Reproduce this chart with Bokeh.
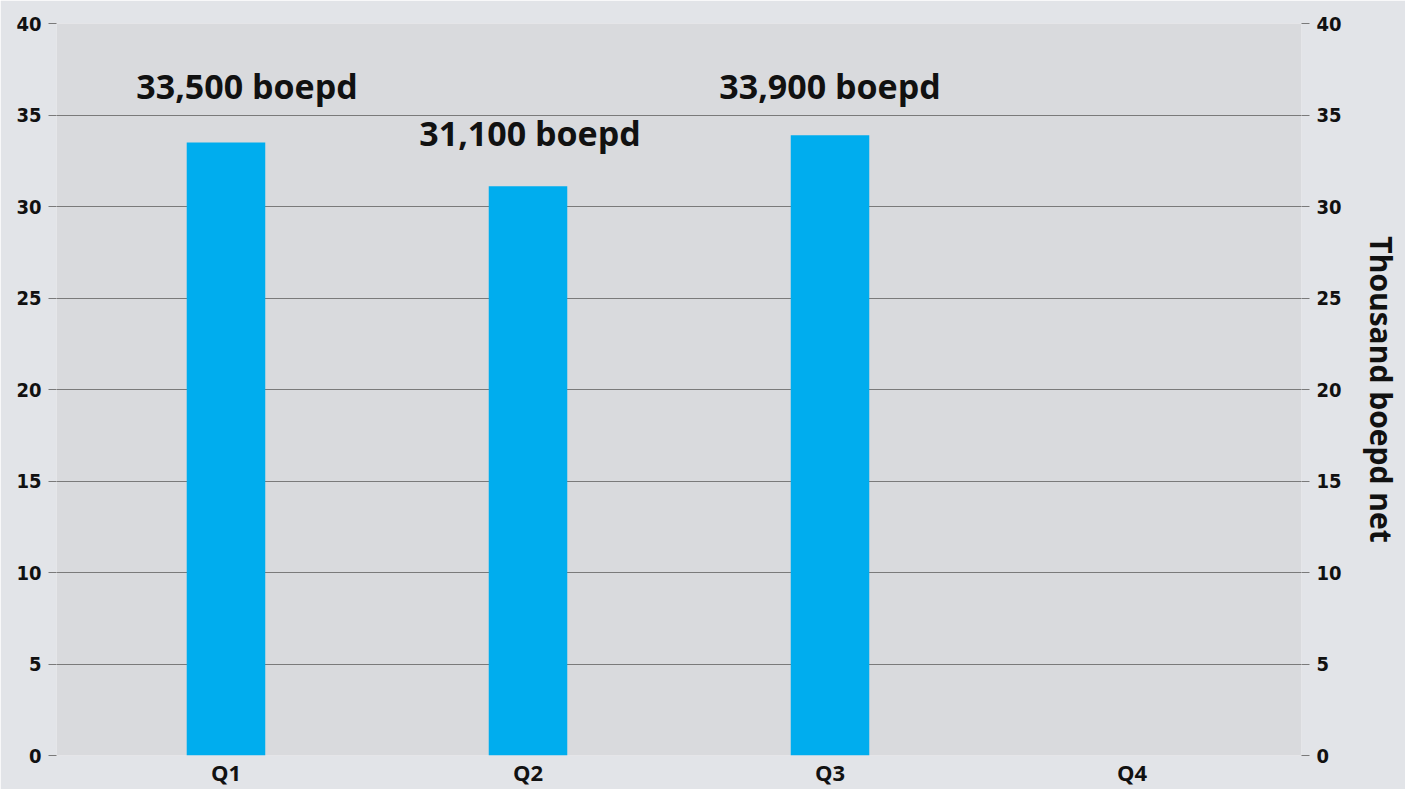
from bokeh.plotting import figure
from bokeh.models import FactorRange, Range1d, LinearAxis, FixedTicker, ColumnDataSource
from bokeh.core.properties import value
from bokeh.embed import file_html
from bokeh.resources import INLINE

quarters = ["Q1", "Q2", "Q3", "Q4"]
production = [33.5, 31.1, 33.9, None]
bar_labels = ["33,500 boepd", "31,100 boepd", "33,900 boepd"]
y_ticks = [0, 5, 10, 15, 20, 25, 30, 35, 40]

TICK_FONT = "DejaVu Sans Condensed"

p = figure(
    width=1405, height=789,
    x_range=FactorRange(factors=quarters, range_padding=0.0306),
    y_range=Range1d(0, 40),
    output_backend="svg", toolbar_location=None,
    min_border_left=56, min_border_right=104, min_border_top=23, min_border_bottom=34,
)
p.border_fill_color = "#e2e4e8"
p.background_fill_color = "#d9dadd"
p.outline_line_color = None

vals = [v if v is not None else float("nan") for v in production]
src = ColumnDataSource(dict(q=quarters, v=vals))
p.vbar(x="q", top="v", width=0.26, source=src, fill_color="#00adee", line_color=None)

lab_src = ColumnDataSource(dict(q=quarters[:3], v=production[:3], t=bar_labels,
                                xo=[21, 2, 0], yo=[-33, -30, -26]))
p.text(x="q", y="v", text="t", source=lab_src, x_offset="xo", y_offset="yo",
       text_font=value("Open Sans"), text_font_style="bold", text_font_size="34px",
       text_color="#111111", text_align="center", text_baseline="bottom")

# grid
p.xgrid.grid_line_color = None
p.ygrid.ticker = FixedTicker(ticks=y_ticks)
p.ygrid.grid_line_color = "#7a7a7a"
p.ygrid.grid_line_width = 1.2

# left axis
la = p.yaxis[0]
la.ticker = FixedTicker(ticks=y_ticks)
la.axis_line_color = None
la.major_tick_line_color = "#7a7a7a"
la.major_tick_out = 8
la.major_tick_in = 0
la.minor_tick_line_color = None
la.major_label_standoff = 7
la.major_label_text_font = TICK_FONT
la.major_label_text_font_style = "bold"
la.major_label_text_font_size = "20px"
la.major_label_text_color = "#111111"

# right axis
ra = LinearAxis(ticker=FixedTicker(ticks=y_ticks), axis_label="Thousand boepd net")
ra.axis_line_color = None
ra.major_tick_line_color = "#7a7a7a"
ra.major_tick_out = 8
ra.major_tick_in = 0
ra.minor_tick_line_color = None
ra.major_label_standoff = 7
ra.major_label_text_font = TICK_FONT
ra.major_label_text_font_style = "bold"
ra.major_label_text_font_size = "20px"
ra.major_label_text_color = "#111111"
ra.axis_label_standoff = 16
ra.axis_label_text_line_height = 1.0
ra.axis_label_text_font = "Open Sans"
ra.axis_label_text_font_style = "bold"
ra.axis_label_text_font_size = "30px"
ra.axis_label_text_color = "#111111"
p.add_layout(ra, "right")

# bottom axis
xa = p.xaxis[0]
xa.axis_line_color = None
xa.major_tick_line_color = None
xa.major_tick_out = 0
xa.major_tick_in = 0
xa.minor_tick_line_color = None
xa.major_label_standoff = 1
xa.major_label_text_font = "Open Sans"
xa.major_label_text_font_style = "bold"
xa.major_label_text_font_size = "22px"
xa.major_label_text_color = "#111111"

open("out.html", "w").write(file_html(p, INLINE))
